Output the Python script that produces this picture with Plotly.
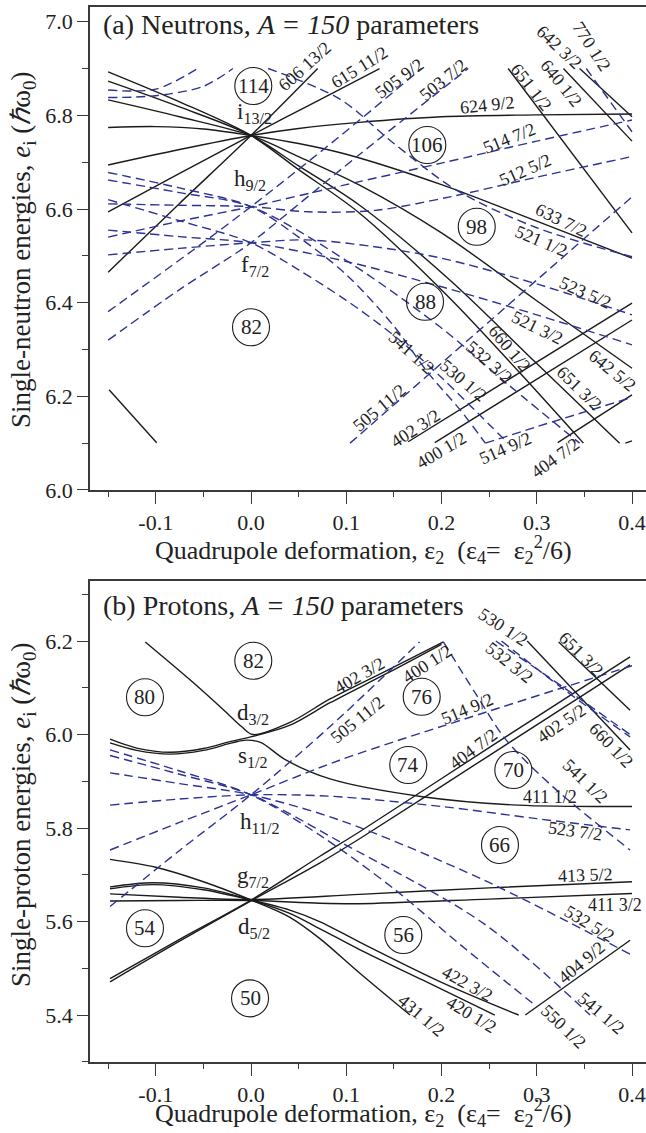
import plotly.graph_objects as go

# ---------------- Neutron single-particle levels (A = 150 parameters) ----------------
neutron_names = [
    "606 13/2", "615 11/2", "624 9/2", "633 7/2", "642 5/2", "651 3/2", "660 1/2",
    "651 1/2", "640 1/2", "642 3/2", "402 3/2", "400 1/2", "404 7/2", "", "",
    "505 9/2", "503 7/2", "514 7/2", "512 5/2", "523 5/2", "521 3/2", "532 3/2",
    "541 1/2", "530 1/2", "521 1/2", "", "", "505 11/2", "514 9/2", "770 1/2",
]
neutron_parity = [
    "+", "+", "+", "+", "+", "+", "+",
    "+", "+", "+", "+", "+", "+", "+", "+",
    "-", "-", "-", "-", "-", "-", "-",
    "-", "-", "-", "-", "-", "-", "-", "-",
]
neutron_eps = [
    [-0.15, -0.075, 0, 0.07],
    [-0.15, -0.075, 0, 0.07, 0.135],
    [-0.15, -0.075, 0, 0.05, 0.114, 0.2, 0.3, 0.4],
    [-0.15, -0.1, -0.05, 0, 0.05, 0.1, 0.2, 0.3, 0.4],
    [-0.15, -0.075, 0, 0.05, 0.114, 0.2, 0.3, 0.4],
    [-0.15, -0.075, 0, 0.05, 0.114, 0.209, 0.3, 0.387],
    [-0.15, -0.075, 0, 0.05, 0.114, 0.209, 0.28, 0.349],
    [0.27, 0.40],
    [0.328, 0.40],
    [0.345, 0.40],
    [0.165, 0.40],
    [0.193, 0.40],
    [0.322, 0.40],
    [-0.149, -0.099],
    [0.393, 0.40],
    [-0.15, -0.061, 0, 0.09, 0.179],
    [-0.15, -0.075, -0.017, 0, 0.11, 0.228],
    [-0.15, -0.075, 0, 0.1, 0.2, 0.3, 0.4],
    [-0.15, -0.075, 0, 0.06, 0.13, 0.209, 0.3, 0.4],
    [-0.15, -0.075, 0, 0.058, 0.128, 0.2, 0.3, 0.4],
    [-0.15, -0.075, 0, 0.1, 0.2, 0.3, 0.4],
    [-0.15, -0.075, 0, 0.1, 0.198, 0.27, 0.345],
    [-0.15, -0.075, 0, 0.05, 0.1, 0.15, 0.186, 0.22, 0.246],
    [-0.15, -0.075, 0, 0.05, 0.1, 0.15, 0.2, 0.25, 0.27],
    [0.018, 0.093, 0.15, 0.216, 0.3, 0.4],
    [-0.15, -0.1, -0.056],
    [-0.15, -0.1, -0.05, -0.019],
    [0.104, 0.4],
    [0.246, 0.3, 0.397],
    [0.352, 0.40],
]
neutron_e = [
    [6.465, 6.612, 6.757, 6.90],
    [6.594, 6.676, 6.757, 6.831, 6.90],
    [6.694, 6.727, 6.757, 6.772, 6.785, 6.797, 6.801, 6.803],
    [6.774, 6.776, 6.771, 6.757, 6.740, 6.717, 6.652, 6.574, 6.495],
    [6.833, 6.797, 6.757, 6.712, 6.651, 6.549, 6.404, 6.26],
    [6.873, 6.818, 6.757, 6.692, 6.608, 6.448, 6.27, 6.10],
    [6.893, 6.829, 6.757, 6.684, 6.591, 6.409, 6.255, 6.10],
    [6.90, 6.549],
    [6.90, 6.745],
    [6.90, 6.797],
    [6.103, 6.399],
    [6.101, 6.363],
    [6.101, 6.203],
    [6.214, 6.101],
    [6.10, 6.105],
    [6.381, 6.512, 6.605, 6.75, 6.90],
    [6.32, 6.428, 6.504, 6.528, 6.71, 6.90],
    [6.540, 6.574, 6.605, 6.652, 6.698, 6.745, 6.79],
    [6.611, 6.608, 6.605, 6.594, 6.597, 6.626, 6.668, 6.712],
    [6.502, 6.516, 6.528, 6.534, 6.52, 6.495, 6.44, 6.374],
    [6.555, 6.541, 6.528, 6.488, 6.434, 6.374, 6.31],
    [6.662, 6.635, 6.605, 6.49, 6.349, 6.225, 6.10],
    [6.678, 6.645, 6.605, 6.54, 6.46, 6.35, 6.25, 6.17, 6.10],
    [6.62, 6.575, 6.528, 6.47, 6.405, 6.33, 6.24, 6.14, 6.10],
    [6.90, 6.835, 6.74, 6.64, 6.56, 6.498],
    [6.854, 6.856, 6.90],
    [6.838, 6.842, 6.862, 6.90],
    [6.10, 6.626],
    [6.10, 6.135, 6.196],
    [6.90, 6.765],
]

# ---------------- Proton single-particle levels (A = 150 parameters) ----------------
proton_names = [
    "402 3/2", "400 1/2", "411 1/2", "431 1/2", "420 1/2", "422 3/2", "413 5/2",
    "411 3/2", "404 7/2", "402 5/2", "404 9/2", "660 1/2", "651 3/2",
    "505 11/2", "514 9/2", "523 7/2", "532 5/2", "541 1/2", "550 1/2",
    "541 1/2", "532 3/2", "530 1/2",
]
proton_parity = [
    "+", "+", "+", "+", "+", "+", "+",
    "+", "+", "+", "+", "+", "+",
    "-", "-", "-", "-", "-", "-",
    "-", "-", "-",
]
proton_eps = [
    [-0.111, -0.064, -0.029, -0.01, 0.002, 0.041, 0.083, 0.142, 0.202],
    [-0.148, -0.12, -0.085, -0.05, -0.02, 0.002, 0.041, 0.083, 0.142, 0.2],
    [-0.148, -0.12, -0.085, -0.05, -0.02, -0.005, 0.01, 0.037, 0.083, 0.18, 0.28, 0.4],
    [-0.148, -0.1, -0.05, 0, 0.04, 0.072, 0.114, 0.167],
    [-0.148, -0.103, -0.05, 0, 0.04, 0.072, 0.114, 0.18, 0.256],
    [-0.148, -0.103, -0.05, 0, 0.04, 0.072, 0.114, 0.2, 0.281],
    [-0.148, -0.075, 0, 0.114, 0.25, 0.4],
    [-0.148, -0.075, 0, 0.072, 0.114, 0.25, 0.4],
    [-0.148, -0.075, 0, 0.072, 0.114, 0.25, 0.398],
    [-0.148, -0.075, 0, 0.072, 0.114, 0.25, 0.398],
    [0.288, 0.398],
    [0.29, 0.398],
    [0.323, 0.398],
    [-0.148, -0.075, 0, 0.083, 0.177],
    [-0.148, -0.075, 0, 0.093, 0.25, 0.4],
    [-0.148, -0.075, 0, 0.083, 0.2, 0.3, 0.398],
    [-0.148, -0.075, 0, 0.093, 0.244, 0.4],
    [-0.148, -0.075, 0, 0.093, 0.244, 0.356],
    [-0.148, -0.075, 0, 0.072, 0.15, 0.22, 0.30],
    [0.202, 0.235, 0.268, 0.317, 0.398],
    [0.263, 0.33, 0.398],
    [0.257, 0.33, 0.398],
]
proton_e = [
    [6.198, 6.117, 6.053, 6.017, 6.0, 6.026, 6.076, 6.136, 6.198],
    [5.990, 5.971, 5.962, 5.970, 5.986, 5.996, 6.020, 6.068, 6.130, 6.193],
    [5.982, 5.966, 5.958, 5.966, 5.982, 5.988, 5.983, 5.945, 5.905, 5.867, 5.849, 5.846],
    [5.733, 5.716, 5.685, 5.646, 5.61, 5.564, 5.49, 5.40],
    [5.674, 5.683, 5.672, 5.646, 5.618, 5.585, 5.54, 5.475, 5.40],
    [5.670, 5.679, 5.668, 5.646, 5.625, 5.60, 5.556, 5.47, 5.40],
    [5.659, 5.652, 5.647, 5.658, 5.672, 5.685],
    [5.644, 5.645, 5.645, 5.639, 5.638, 5.648, 5.66],
    [5.478, 5.562, 5.646, 5.739, 5.792, 5.972, 6.166],
    [5.471, 5.558, 5.644, 5.725, 5.777, 5.955, 6.149],
    [5.40, 5.56],
    [6.20, 5.967],
    [6.198, 6.052],
    [5.632, 5.752, 5.871, 6.017, 6.198],
    [5.753, 5.812, 5.871, 5.945, 6.05, 6.147],
    [5.849, 5.862, 5.871, 5.868, 5.846, 5.82, 5.796],
    [5.918, 5.895, 5.871, 5.817, 5.689, 5.528],
    [5.955, 5.915, 5.871, 5.771, 5.596, 5.40],
    [5.967, 5.922, 5.871, 5.785, 5.67, 5.55, 5.418],
    [6.198, 6.09, 5.988, 5.888, 5.753],
    [6.20, 6.094, 5.995],
    [6.20, 6.098, 6.0],
]

# Nilsson labels placed beside the levels: text, eps, e, angle
neutron_label_text = ["606 13/2", "615 11/2", "505 9/2", "503 7/2", "624 9/2", "514 7/2",
                      "512 5/2", "633 7/2", "521 1/2", "651 1/2", "640 1/2", "642 3/2",
                      "770 1/2", "523 5/2", "521 3/2", "660 1/2", "642 5/2", "651 3/2",
                      "541 1/2", "532 3/2", "530 1/2", "505 11/2", "402 3/2", "400 1/2",
                      "514 9/2", "404 7/2"]
neutron_label_x = [0.0567, 0.1144, 0.1564, 0.2016, 0.2478, 0.2719, 0.2877, 0.3255, 0.3045,
                   0.294, 0.3255, 0.3234, 0.358, 0.3517, 0.3013, 0.2719, 0.38, 0.3444,
                   0.169, 0.2499, 0.2236, 0.1344, 0.1732, 0.2005, 0.2677, 0.3192]
neutron_label_y = [6.905, 6.903, 6.8797, 6.8755, 6.822, 6.7515, 6.6834, 6.5766, 6.5318,
                   6.8606, 6.869, 6.946, 6.946, 6.4204, 6.346, 6.3011, 6.2541, 6.2178,
                   6.2924, 6.2733, 6.2328, 6.1751, 6.1324, 6.0854, 6.0897, 6.0683]
neutron_label_angle = [-42, -32, -36, -39, -6, -22, -24, 26, 23, 52, 51, 43, 57, 24, 26, 50,
                       39, 44, 42, 41, 40, -40, -33, -31, -24, -36]

proton_label_text = ["402 3/2", "400 1/2", "505 11/2", "514 9/2", "404 7/2", "402 5/2",
                     "530 1/2", "532 3/2", "651 3/2", "660 1/2", "541 1/2", "411 1/2",
                     "523 7/2", "413 5/2", "411 3/2", "532 5/2", "404 9/2", "541 1/2",
                     "550 1/2", "422 3/2", "420 1/2", "431 1/2"]
proton_label_x = [0.1144, 0.1848, 0.1113, 0.2268, 0.2331, 0.3265, 0.2646, 0.2719, 0.3465,
                  0.378, 0.3507, 0.3139, 0.3402, 0.3517, 0.3822, 0.3559, 0.3475, 0.3675,
                  0.3286, 0.2278, 0.232, 0.1795]
proton_label_y = [6.1273, 6.1508, 6.031, 6.0545, 5.969, 6.0246, 6.2300, 6.153, 6.1722,
                  5.9775, 5.9005, 5.8663, 5.7936, 5.6995, 5.6353, 5.5947, 5.5134, 5.4043,
                  5.3743, 5.4663, 5.40, 5.3979]
proton_label_angle = [-30, -33, -39, -23, -37, -34, 33, 38, 45, 46, 44, 0, 8, -2, 0, 31,
                      -40, 40, 44, 29, 31, 40]

# Spherical shell labels
neutron_shell_text = ["i<sub>13/2</sub>", "h<sub>9/2</sub>", "f<sub>7/2</sub>"]
neutron_shell_x = [0.004, -0.001, 0.004]
neutron_shell_y = [6.806, 6.662, 6.478]
proton_shell_text = ["d<sub>3/2</sub>", "s<sub>1/2</sub>", "h<sub>11/2</sub>",
                     "g<sub>7/2</sub>", "d<sub>5/2</sub>"]
proton_shell_x = [0.002, 0.002, 0.009, 0.002, 0.003]
proton_shell_y = [6.044, 5.952, 5.811, 5.695, 5.586]

# Circled shell gaps (particle numbers)
neutron_gap_text = ["114", "106", "98", "88", "82"]
neutron_gap_x = [0.0024, 0.1851, 0.237, 0.1827, 0.0]
neutron_gap_y = [6.8627, 6.7367, 6.5622, 6.4021, 6.3474]
proton_gap_text = ["82", "80", "76", "74", "70", "66", "56", "54", "50"]
proton_gap_x = [0.0024, -0.1113, 0.1792, 0.1651, 0.2754, 0.2614, 0.1599, -0.1113, -0.001]
proton_gap_y = [6.1579, 6.0796, 6.0809, 5.9348, 5.9241, 5.7636, 5.5711, 5.5855, 5.4357]

# Axis ticks
eps_ticks = [-0.1, 0.0, 0.1, 0.2, 0.3, 0.4]
eps_ticktext = ["-0.1", "0.0", "0.1", "0.2", "0.3", "0.4"]
neutron_e_ticks = [6.0, 6.2, 6.4, 6.6, 6.8, 7.0]
neutron_e_ticktext = ["6.0", "6.2", "6.4", "6.6", "6.8", "7.0"]
proton_e_ticks = [5.4, 5.6, 5.8, 6.0, 6.2]
proton_e_ticktext = ["5.4", "5.6", "5.8", "6.0", "6.2"]

# ---------------- Figure ----------------
SERIF = "Liberation Serif, Times New Roman, serif"
BLACK = "#1b1b1b"
BLUE = "#2c3394"
TXT = "#222222"
AX = "#3a3a3a"

fig = go.Figure()


def add_levels(eps_list, e_list, parity_list, names, xa, ya):
    for xs, es, par, nm in zip(eps_list, e_list, parity_list, names):
        if par == "+":
            line = dict(color=BLACK, width=1.4, shape="spline", smoothing=0.9)
        else:
            line = dict(color=BLUE, width=1.4, dash="9px,5px", shape="spline", smoothing=0.9)
        fig.add_trace(go.Scatter(x=xs, y=es, mode="lines", line=line, name=nm,
                                 xaxis=xa, yaxis=ya, hoverinfo="skip", showlegend=False))


add_levels(neutron_eps, neutron_e, neutron_parity, neutron_names, "x", "y")
add_levels(proton_eps, proton_e, proton_parity, proton_names, "x2", "y2")

annotations = []
shapes = []


def add_texts(texts, xs, ys, angles, xref, yref, size):
    for t, x, y, a in zip(texts, xs, ys, angles):
        annotations.append(dict(text=t, x=x, y=y, xref=xref, yref=yref, textangle=a,
                                showarrow=False, xanchor="center", yanchor="middle",
                                font=dict(family=SERIF, size=size, color=TXT)))


add_texts(neutron_label_text, neutron_label_x, neutron_label_y, neutron_label_angle, "x", "y", 18)
add_texts(proton_label_text, proton_label_x, proton_label_y, proton_label_angle, "x2", "y2", 18)
add_texts(neutron_shell_text, neutron_shell_x, neutron_shell_y, [0] * 3, "x", "y", 23)
add_texts(proton_shell_text, proton_shell_x, proton_shell_y, [0] * 5, "x2", "y2", 23)


def add_gaps(texts, xs, ys, xref, yref):
    r = 18.5
    for t, x, y in zip(texts, xs, ys):
        shapes.append(dict(type="circle", xref=xref, yref=yref, xsizemode="pixel",
                           ysizemode="pixel", xanchor=x, yanchor=y, x0=-r, x1=r, y0=-r, y1=r,
                           line=dict(color=BLACK, width=1.1)))
        annotations.append(dict(text=t, x=x, y=y, xref=xref, yref=yref, showarrow=False,
                                xanchor="center", yanchor="middle",
                                font=dict(family=SERIF, size=21, color=TXT)))


add_gaps(neutron_gap_text, neutron_gap_x, neutron_gap_y, "x", "y")
add_gaps(proton_gap_text, proton_gap_x, proton_gap_y, "x2", "y2")

# Panel titles
annotations.append(dict(text="(a) Neutrons, <i>A = 150</i> parameters", x=-0.157, y=6.994,
                        xref="x", yref="y", xanchor="left", yanchor="middle", showarrow=False,
                        font=dict(family=SERIF, size=28, color=TXT)))
annotations.append(dict(text="(b) Protons, <i>A = 150</i> parameters", x=-0.157, y=6.276,
                        xref="x2", yref="y2", xanchor="left", yanchor="middle", showarrow=False,
                        font=dict(family=SERIF, size=28, color=TXT)))

# Axis titles
xtitle = ("Quadrupole deformation, ε<sub>2</sub>\u2002(ε<sub>4</sub>=\u2002"
          "ε<sub>2</sub><sup>2</sup>/6)")
for yp in (0.4853, -0.0480):
    annotations.append(dict(text=xtitle, x=0.4928, y=yp, xref="paper", yref="paper",
                            xanchor="center", yanchor="middle", showarrow=False,
                            font=dict(family=SERIF, size=26, color=TXT)))
for txt, yp in (("Single-neutron energies, <i>e</i><sub>i</sub> (<i>ℏ</i>ω<sub>0</sub>)", 0.7697),
                ("Single-proton energies, <i>e</i><sub>i</sub> (<i>ℏ</i>ω<sub>0</sub>)", 0.2341)):
    annotations.append(dict(text=txt, x=-0.1205, y=yp, xref="paper", yref="paper",
                            xanchor="center", yanchor="middle", textangle=-90, showarrow=False,
                            font=dict(family=SERIF, size=27, color=TXT)))

x_common = dict(range=[-0.16903, 0.4147], showline=True, linecolor=AX, linewidth=1.5,
                mirror=True, ticks="outside", ticklen=12, tickwidth=1.3, tickcolor=AX,
                tickvals=eps_ticks, ticktext=eps_ticktext, showgrid=False, zeroline=False,
                tickfont=dict(family=SERIF, size=22, color=TXT),
                minor=dict(ticks="outside", ticklen=5, tickwidth=1.2, tickcolor=AX,
                           tick0=0, dtick=0.05, showgrid=False))
y_common = dict(showline=True, linecolor=AX, linewidth=1.5, ticks="outside", ticklen=11,
                tickwidth=1.3, tickcolor=AX, showgrid=False, zeroline=False,
                tickfont=dict(family=SERIF, size=22, color=TXT),
                minor=dict(ticks="outside", ticklen=6, tickwidth=1.2, tickcolor=AX,
                           tick0=0, dtick=0.1, showgrid=False))

fig.update_layout(
    width=646, height=1133,
    margin=dict(l=90, r=0, t=7, b=71),
    paper_bgcolor="white", plot_bgcolor="white",
    showlegend=False,
    font=dict(family=SERIF, color=TXT),
    xaxis=dict(domain=[0, 1], anchor="y", **x_common),
    yaxis=dict(domain=[0.5422, 1], anchor="x", range=[6.0, 7.0314],
               tickvals=neutron_e_ticks, ticktext=neutron_e_ticktext, **y_common),
    xaxis2=dict(domain=[0, 1], anchor="y2", **x_common),
    yaxis2=dict(domain=[0, 0.4559], anchor="x2", range=[5.2995, 6.3283],
                tickvals=proton_e_ticks, ticktext=proton_e_ticktext, **y_common),
    annotations=annotations,
    shapes=shapes,
)

fig.write_html("out.html")
